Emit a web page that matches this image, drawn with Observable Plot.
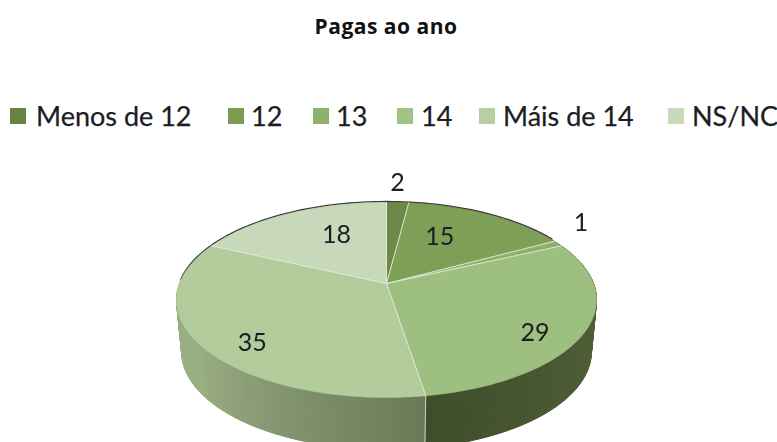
<!DOCTYPE html>
<html lang="pt">
<head>
<meta charset="utf-8">
<script src="https://cdn.jsdelivr.net/npm/d3@7"></script>
<script src="https://cdn.jsdelivr.net/npm/@observablehq/plot@0.6"></script>
<style>
  html, body { margin: 0; padding: 0; background: #fff; }
  #page { position: relative; width: 777px; height: 442px; overflow: hidden; font-family: Lato, "Open Sans", sans-serif; color: #1c1c24; }
  #title { position: absolute; left: 0; width: 772px; top: 12px; text-align: center; font: bold 21px "Open Sans", sans-serif; letter-spacing: 0.5px; color: #111; }
  .sw { position: absolute; width: 16px; height: 16px; top: 108px; }
  .lb { position: absolute; top: 99px; font-size: 27px; line-height: 34px; white-space: nowrap; -webkit-text-stroke: 0.25px #1c1c24; }
  #chart { position: absolute; left: 0; top: 150px; }
  #chart svg { display: block; }
</style>
</head>
<body>
<div id="page">
  <div id="title">Pagas ao ano</div>
  <div id="legend"></div>
  <div id="chart"></div>
</div>
<script>
const categories = ["Menos de 12", "12", "13", "14", "Máis de 14", "NS/NC"];
const values = [2, 15, 1, 29, 35, 18];
const colors = ["#6b8a48", "#7e9f56", "#8fb066", "#9dbf7f", "#b2cc9b", "#c8d8ba"];
const legendColors = ["#66843f", "#7c9c54", "#8fb26a", "#a3c286", "#b7cfa3", "#c9d9bb"];
const legendSwatchX = [10, 228, 313, 397, 479, 668];
const legendTextX = [36, 251, 336, 421, 503, 692];
const labelAngleShift = [-0.75, -6.4, -7, 8.7, -6.8, 7];
const labelRadius = [1.30, 0.60, 1.27, 0.815, 0.815, 0.615];

// Perspective view of the circular pie
const cx = 386, apexY = 283, bx = 207, by = 94.7, k = 0.169, depth = 52, shrink = 0.975;
const project = (deg, r = 1) => {
  const a0 = deg * Math.PI / 180;
  const lean = 1.8 * Math.pow(Math.max(0, -Math.cos(a0)), 3);
  const a = (deg + lean) * Math.PI / 180, u = r * Math.sin(a), v = r * Math.cos(a), w = 1 + k * v;
  return {x: cx + bx * u / w, y: apexY - by * v / w};
};
const projectBase = (deg) => {
  const p = project(deg);
  return {x: cx + (p.x - cx) * shrink, y: p.y + depth};
};

const total = d3.sum(values);
const slices = [];
{
  let acc = 0;
  values.forEach((v, i) => {
    const start = acc / total * 360; acc += v;
    slices.push({i, start, end: acc / total * 360, value: v});
  });
}

const tops = [], walls = [], seams = [], labels = [];
slices.forEach(s => {
  tops.push({id: s.i, ...project(0, 0), fill: colors[s.i]});
  for (let d = s.start; ; d += 1) {
    const a = Math.min(d, s.end);
    tops.push({id: s.i, ...project(a), fill: colors[s.i]});
    if (a >= s.end) break;
  }
  tops.push({id: s.i, ...project(0, 0), fill: colors[s.i]});
  // side wall strips, shaded across each slice
  for (let d = s.start; d < s.end; d += 1) {
    const e = Math.min(d + 1, s.end);
    const t = (d - s.start) / (s.end - s.start);
    const c = s.i === 3 ? d3.interpolateRgb("#5a6a3f", "#404d2b")(t)
            : s.i === 4 ? d3.interpolateRgb("#6a7a58", "#9aae84")(Math.min(1, t * 1.9))
            : s.i === 5 ? "#9aae84" : "#5a6a3f";
    const id = s.i + "-" + d;
    [project(d), project(e), projectBase(e), projectBase(d), project(d)]
      .forEach(p => walls.push({id, ...p, fill: c}));
  }
  // light separators
  [project(0, 0), project(s.start)].forEach(p => seams.push({id: s.i, ...p}));
  const mid = (s.start + s.end) / 2 + labelAngleShift[s.i];
  labels.push({...project(mid, labelRadius[s.i]), text: String(s.value)});
});
// seam on the front of the wall between the two large slices
const frontSeam = [project(slices[4].start), projectBase(slices[4].start)];
// dark outline on the back rim
const backRim = d3.range(272, 421, 2).map(d => project(d));

const chart = Plot.plot({
  width: 777, height: 292,
  margin: 0,
  x: {domain: [0, 777], range: [0, 777], axis: null},
  y: {domain: [150, 442], range: [0, 292], axis: null},
  marks: [
    Plot.line(walls, {x: "x", y: "y", z: "id", fill: "fill", stroke: "fill", strokeWidth: 1}),
    Plot.line(backRim, {x: "x", y: d => d.y - 1, stroke: "#3c3c3c", strokeWidth: 1.3}),
    Plot.line(tops, {x: "x", y: "y", z: "id", fill: "fill", stroke: "fill", strokeWidth: 0.5}),
    Plot.line(seams, {x: "x", y: "y", z: "id", stroke: "#dfe9d5", strokeWidth: 1}),
    Plot.line(frontSeam, {x: "x", y: "y", stroke: "#c9d4bd", strokeWidth: 1}),
    Plot.text(labels, {x: "x", y: "y", text: "text", fontSize: 25, fontFamily: "Lato, sans-serif", fill: "#1c1c24"})
  ]
});
chart.style.filter = "blur(0.4px)";
document.getElementById("chart").appendChild(chart);

const legend = document.getElementById("legend");
categories.forEach((c, i) => {
  const sw = document.createElement("div");
  sw.className = "sw"; sw.style.left = legendSwatchX[i] + "px"; sw.style.background = legendColors[i];
  const lb = document.createElement("div");
  lb.className = "lb"; lb.style.left = legendTextX[i] + "px"; lb.textContent = c;
  legend.append(sw, lb);
});
</script>
</body>
</html>
